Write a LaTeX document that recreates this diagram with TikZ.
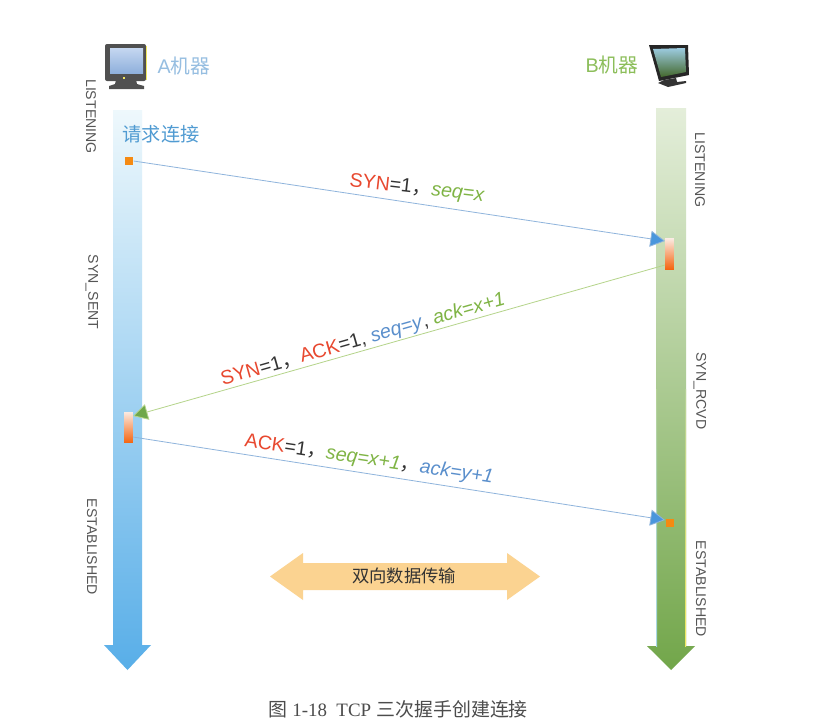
\documentclass[tikz,border=0pt]{standalone}
\usepackage{fontspec}
\setmainfont{Liberation Sans}
\newfontfamily\cjk{Noto Sans CJK SC}
\newfontfamily\capserif{Liberation Serif}
\usetikzlibrary{arrows.meta}
\definecolor{lblred}{HTML}{E8482F}
\definecolor{lblgreen}{HTML}{7FB445}
\definecolor{lblblue}{HTML}{5A8FCC}
\definecolor{lineblue}{HTML}{8FB4DC}
\definecolor{headblue}{HTML}{4A96DC}
\definecolor{linegreen}{HTML}{B5D48A}
\definecolor{headgreen}{HTML}{6FA84A}
\definecolor{statetxt}{HTML}{555555}
\definecolor{atop}{HTML}{EEF8FC}
\definecolor{amid}{HTML}{A6D8F3}
\definecolor{abot}{HTML}{58AEE8}
\definecolor{btop}{HTML}{E4EEDA}
\definecolor{bmid}{HTML}{B6D298}
\definecolor{bbot}{HTML}{72A64A}
\definecolor{hosta}{HTML}{96BEE1}
\definecolor{hostb}{HTML}{8CBE5A}
\definecolor{reqblue}{HTML}{509BD2}
\definecolor{dataarrow}{HTML}{FBD391}
\definecolor{bartop}{HTML}{FBE9E0}
\definecolor{barbot}{HTML}{F4640F}
\definecolor{sqorange}{HTML}{F58A12}
\definecolor{edgeblue}{HTML}{A8D8E8}
\definecolor{edgeyellow}{HTML}{F0E860}
\definecolor{monbody}{HTML}{505050}
\definecolor{monscreentop}{HTML}{C4D6F0}
\definecolor{monscreenbot}{HTML}{8FB0DC}
\definecolor{skytop}{HTML}{9CCBE0}
\definecolor{grassmid}{HTML}{C4D67C}
\definecolor{grassbot}{HTML}{44682C}
\newcommand{\rd}[1]{\textcolor{lblred}{#1}}
\newcommand{\grn}[1]{\textcolor{lblgreen}{\textit{#1}}}
\newcommand{\blu}[1]{\textcolor{lblblue}{\textit{#1}}}
\newcommand{\cmm}{{\cjk ，}}
\tikzset{
  statelbl/.style={rotate=-90,inner sep=0pt,text=statetxt,font=\fontsize{10.6}{12}\selectfont},
  msglbl/.style={inner sep=0pt,text=black!80,font=\fontsize{14.7}{16}\selectfont},
  square/.style={fill=sqorange,minimum size=6.5pt,inner sep=0pt},
  gradbar/.style={top color=bartop,bottom color=barbot,minimum width=6.5pt,minimum height=23pt,inner sep=0pt},
  msgblue/.style={draw=lineblue,line width=0.6pt,-{Triangle[length=11pt,width=12pt,fill=headblue]}},
  msggreen/.style={draw=linegreen,line width=0.6pt,-{Triangle[length=11pt,width=12pt,fill=headgreen]}},
}
\begin{document}
\begin{tikzpicture}[x=0.75pt,y=-0.75pt]
\useasboundingbox (0,0) rectangle (829,728);
\fill[white] (0,0) rectangle (829,728);

% lifelines
\shade[top color=atop,middle color=amid,bottom color=abot]
  (113,110) -- (142,110) -- (142,645) -- (151,645) -- (127.5,670) -- (104,645) -- (113,645) -- cycle;
\shade[top color=btop,middle color=bmid,bottom color=bbot]
  (656,108) -- (686,108) -- (686,646) -- (695,646) -- (671,670) -- (647,646) -- (656,646) -- cycle;
\shade[top color=bmid,bottom color=edgeblue] (656,389) rectangle (657,646);
\shade[top color=bmid,bottom color=edgeyellow] (685,389) rectangle (686,646);

% computer A
\fill[monbody] (116,80) -- (136,80) -- (137,84) -- (144,86) -- (144,89) -- (109,89) -- (109,86) -- (115,84) -- cycle;
\fill[monbody,rounded corners=1.5pt] (105,44) rectangle (146,81);
\shade[top color=monscreentop,bottom color=monscreenbot] (110,48.5) rectangle (143,73);
\fill[edgeyellow] (122.5,76.5) rectangle (124.5,78.5);
\draw[edgeyellow,line width=0.5pt] (146.4,46) -- (146.4,80);
% computer B
\fill[black!80] (664,80) -- (676,78) -- (677,82) -- (686,81) -- (686,83) -- (668,87) -- (658,83) -- cycle;
\fill[black!85] (649,45) -- (688,45) -- (689,75) -- (659,81) -- cycle;
\shade[top color=skytop,middle color=grassmid,bottom color=grassbot] (653,49) -- (685,48) -- (686,72) -- (661,77) -- cycle;

% titles
\node[inner sep=0pt,text=hosta,font=\fontsize{14.8}{17}\selectfont] (hostA) at (184,66) {A{\cjk 机器}};
\node[inner sep=0pt,text=hostb,font=\fontsize{14.8}{17}\selectfont] (hostB) at (612,65) {B{\cjk 机器}};
\node[inner sep=0pt,text=reqblue,font=\fontsize{14.4}{16}\selectfont] (req) at (161,134) {\cjk 请求连接};

% states
\node[statelbl] (a1) at (91,116.5) {LISTENING};
\node[statelbl] (a2) at (92,292) {SYN\_SENT};
\node[statelbl] (a3) at (92,547) {ESTABLISHED};
\node[statelbl] (b1) at (700,170) {LISTENING};
\node[statelbl] (b2) at (700,391) {SYN\_RCVD};
\node[statelbl] (b3) at (701,589) {ESTABLISHED};

% event markers
\node[square] (s1) at (129,161) {};
\node[gradbar] (barb) at (669.5,254) {};
\node[gradbar] (bara) at (128.5,427.5) {};
\node[square] (s3) at (670,523) {};

\coordinate (t1) at (665,241);
\coordinate (f2) at (665,265);
\coordinate (t2) at (133,416);
\coordinate (f3) at (133,437);
\coordinate (t3) at (665,520);

\draw[msgblue] (s1.east) -- (t1);
\draw[msggreen] (f2) -- (t2);
\draw[msgblue] (f3) -- (t3);

% message labels
\node[msglbl,rotate=-6.5] (m1) at (417,189) {\rd{SYN}=1\cmm\grn{seq=x}};
\node[msglbl,rotate=16] (m2) at (363,340) {\rd{SYN}=1\cmm\rd{ACK}=1, \blu{seq=y}, \grn{ack=x+1}};
\node[msglbl,rotate=-8.5] (m3) at (369,460) {\rd{ACK}=1\cmm\grn{seq=x+1}\cmm\blu{ack=y+1}};

% data transfer
\fill[dataarrow] (270,576.5) -- (303,553) -- (303,563) -- (507,563) -- (507,553) -- (540,576.5) -- (507,600) -- (507,590) -- (303,590) -- (303,600) -- cycle;
\node[inner sep=0pt,text=black!80,font=\cjk\fontsize{13}{15}\selectfont] (data) at (404,576) {双向数据传输};

% caption
\node[inner sep=0pt,text=black!70,font=\fontsize{14.2}{16}\selectfont] (cap) at (398,709) {{\cjk 图} {\capserif 1-18\ \ TCP} {\cjk 三次握手创建连接}};
\end{tikzpicture}
\end{document}
